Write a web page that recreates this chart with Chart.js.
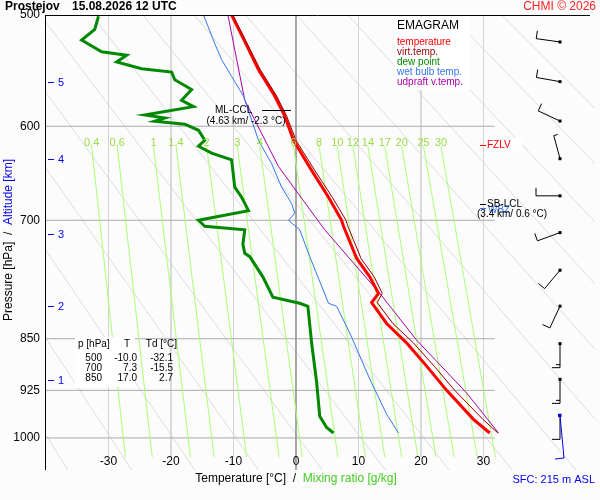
<!DOCTYPE html>
<html>
<head>
<meta charset="utf-8">
<script src="https://cdn.jsdelivr.net/npm/chart.js@4.4.1/dist/chart.umd.min.js"></script>
<style>
  body { margin: 0; background: #fcfcfc; }
  #wrap { width: 600px; height: 500px; }
</style>
</head>
<body>
<div id="wrap"><canvas id="emagram" width="600" height="500"></canvas></div>
<script>
// sounding profiles (pressure hPa / temperature degC)
const tempP = [500, 522, 547, 571, 590, 614, 645, 674, 700, 707, 745, 768, 789, 801, 829, 856, 889, 925, 970, 992];
const tempT = [-10.3, -8.2, -6.0, -3.4, -1.8, -0.4, 2.5, 5.2, 7.3, 7.6, 9.7, 11.8, 13.2, 12.1, 14.5, 17.7, 20.9, 24.1, 28.4, 31.0];
const virtT = [-10.1, -8.0, -5.7, -3.1, -1.5, 0.0, 3.0, 5.8, 8.0, 8.3, 10.4, 12.5, 13.8, 13.0, 15.5, 18.8, 22.1, 25.4, 29.9, 32.3];
const dewP = [501, 512, 521, 531, 534, 540, 546, 549, 556, 565, 575, 581, 589, 592, 595, 598, 604, 614, 620, 627, 634, 663, 674, 689, 700, 707, 711, 728, 739, 743, 768, 794, 802, 806, 856, 913, 965, 983, 992];
const dewT = [-31.6, -32.2, -34.3, -31.1, -27.1, -28.7, -24.7, -19.9, -19.4, -16.7, -18.3, -16.4, -24.2, -21.0, -22.6, -17.8, -15.6, -14.6, -15.6, -13.5, -10.3, -9.8, -8.7, -7.6, -15.6, -14.6, -8.2, -8.5, -8.2, -7.4, -5.3, -3.7, 0.6, 1.9, 2.5, 3.3, 3.8, 4.9, 6.0];
const wetP = [500, 524, 538, 553, 571, 594, 614, 638, 663, 681, 692, 700, 711, 743, 802, 806, 842, 908, 962, 992];
const wetT = [-14.8, -13.0, -11.9, -10.3, -8.4, -7.1, -6.0, -3.9, -2.3, -0.7, -0.2, -1.2, 0.6, 2.2, 5.2, 6.5, 8.6, 11.8, 14.5, 16.4];
const updP = [500, 575, 641, 677, 711, 789, 852, 929, 992];
const updT = [-10.9, -8.2, -2.8, 1.1, 4.6, 13.4, 19.3, 27.3, 32.4];

// background lines
const mixLabels = ['0.4', '0.6', '1', '1.4', '2', '3', '4', '6', '8', '10', '12', '14', '17', '20', '25', '30'];
const mixTop = [-32.7, -28.6, -22.8, -19.2, -14.3, -9.4, -5.8, -0.4, 3.7, 6.6, 9.1, 11.5, 14.2, 16.9, 20.4, 23.2];
const mixBottom = [-27.3, -23.0, -16.9, -13.1, -7.9, -2.7, 1.0, 6.7, 11.1, 14.2, 16.9, 19.5, 22.4, 25.3, 29.0, 31.9];
const dryBottom = [-36.5, -26.3, -16.2, -6.0, 4.2, 14.3, 24.5, 34.6, 44.8, 54.9, 65.1, 75.2, 85.4, 95.5, 105.7];
const dryTop = [-81.9, -73.7, -65.5, -57.3, -49.1, -40.9, -32.7, -24.5, -16.3, -8.1, 0.1, 8.3, 16.5, 24.7, 32.9];
const isobars = [600, 700, 850, 925, 1000];
const isotherms = [-30, -20, -10, 10, 20, 30];
const tempTicks = [-30, -20, -10, 0, 10, 20, 30];
const presTicks = [500, 600, 700, 850, 925, 1000];
const altKm = [1, 2, 3, 4, 5];
const altP = [909, 806, 716, 633, 558];

// winds: pressure, direction (deg), speed (kt)
const windP = [522.6, 557.7, 594.9, 632.8, 672.5, 714.3, 759.7, 805.8, 856.9, 908.5, 963.7];
const windDir = [278, 280, 295, 345, 270, 250, 220, 205, 180, 180, 180];
const windSpd = [10, 10, 10, 5, 10, 10, 10, 10, 15, 15, 10];

const P_MIN = 500, P_MAX = 1054, T_MIN = -40.16, T_MAX = 47.84;

const pts = (ps, ts) => ps.map((p, i) => ({ x: ts[i], y: p }));
const seg = (x1, y1, x2, y2, color, order) => ({
  data: [{ x: x1, y: y1 }, { x: x2, y: y2 }], borderColor: color, borderWidth: 1,
  pointRadius: 0, tension: 0, order: order
});

const datasets = [];
dryBottom.forEach((t, i) => datasets.push(seg(t, P_MAX, dryTop[i], P_MIN, '#dcdcdc', 20)));
isotherms.forEach(t => datasets.push(seg(t, P_MIN, t, 1032, '#d4d4d4', 19)));
datasets.push(seg(0, P_MIN, 0, P_MAX, '#999999', 18));
isobars.forEach(p => datasets.push(seg(T_MIN, p, 31.8, p, '#aaaaaa', 18)));
mixTop.forEach((t, i) => datasets.push(seg(t, 620, mixBottom[i], 1032, '#aaff77', 17)));
datasets.push({ data: pts(updP, updT), borderColor: '#aa00aa', borderWidth: 1, pointRadius: 0, order: 5 });
datasets.push({ data: pts(wetP, wetT), borderColor: '#3377ee', borderWidth: 1, pointRadius: 0, order: 4 });
datasets.push({ data: pts(dewP, dewT), borderColor: '#008800', borderWidth: 3, pointRadius: 0, order: 3 });
datasets.push({ data: pts(tempP, virtT), borderColor: '#990000', borderWidth: 1, pointRadius: 0, order: 1 });
datasets.push({ data: pts(tempP, tempT), borderColor: '#ff0000', borderWidth: 3, pointRadius: 0, order: 2 });

const annotate = {
  id: 'annotate',
  beforeDraw(chart) {
    const c = chart.ctx;
    c.save(); c.fillStyle = '#fcfcfc'; c.fillRect(0, 0, chart.width, chart.height); c.restore();
  },
  afterDatasetsDraw(chart) {
    const c = chart.ctx, xs = chart.scales.x, ys = chart.scales.y, a = chart.chartArea;
    const X = v => xs.getPixelForValue(v), Y = v => ys.getPixelForValue(v);
    c.save();
    // frame
    c.strokeStyle = '#000'; c.lineWidth = 1;
    c.beginPath(); c.moveTo(a.left + 0.5, a.top); c.lineTo(a.left + 0.5, a.bottom);
    c.moveTo(a.left, a.top + 0.5); c.lineTo(590, a.top + 0.5); c.stroke();

    c.font = '12px "Liberation Sans", Arial, sans-serif';
    c.textBaseline = 'middle';
    // pressure ticks
    c.fillStyle = '#000'; c.textAlign = 'right';
    presTicks.forEach(p => c.fillText(String(p), 40, Y(p)));
    // temperature ticks
    c.textAlign = 'center';
    tempTicks.forEach(t => c.fillText(String(t), X(t), 462));
    // altitude ticks
    c.fillStyle = '#0000ee'; c.strokeStyle = '#0000ee'; c.textAlign = 'left'; c.font = '11px "Liberation Sans", Arial, sans-serif';
    altKm.forEach((k, i) => {
      const y = Math.round(Y(altP[i])) + 0.5;
      c.beginPath(); c.moveTo(48, y); c.lineTo(54, y); c.stroke();
      c.fillText(String(k), 58, y);
    });
    // mixing ratio labels
    c.fillStyle = '#99dd44'; c.textAlign = 'center';
    mixLabels.forEach((l, i) => c.fillText(l, X(mixTop[i]), 143));

    // axis titles
    c.font = '12px "Liberation Sans", Arial, sans-serif';
    c.save(); c.translate(9, 240); c.rotate(-Math.PI / 2); c.textAlign = 'left';
    let s1 = 'Pressure [hPa]  /  ', s2 = 'Altitude [km]';
    let w = c.measureText(s1).width + c.measureText(s2).width, x0 = -w / 2;
    c.fillStyle = '#000'; c.fillText(s1, x0, 0);
    c.fillStyle = '#0000ee'; c.fillText(s2, x0 + c.measureText(s1).width, 0);
    c.restore();
    s1 = 'Temperature [°C]  /  '; s2 = 'Mixing ratio [g/kg]';
    w = c.measureText(s1).width + c.measureText(s2).width; x0 = 296 - w / 2;
    c.textAlign = 'left';
    c.fillStyle = '#000'; c.fillText(s1, x0, 479);
    c.fillStyle = '#44cc22'; c.fillText(s2, x0 + c.measureText(s1).width, 479);
    c.fillStyle = '#0000ee'; c.textAlign = 'right'; c.font = '11px "Liberation Sans", Arial, sans-serif';
    c.fillText('SFC: 215 m ASL', 595, 480);

    // title
    c.font = 'bold 12px "Liberation Sans", Arial, sans-serif'; c.textAlign = 'left'; c.fillStyle = '#000';
    c.fillText('Prostejov', 5, 7);
    c.fillText('15.08.2026 12 UTC', 72, 7);
    c.font = '12px "Liberation Sans", Arial, sans-serif'; c.fillStyle = '#ff2222'; c.textAlign = 'right';
    c.fillText('CHMI © 2026', 596, 7);

    // legend
    c.fillStyle = '#ffffff'; c.fillRect(395, 17, 75, 73);
    c.textAlign = 'left'; c.fillStyle = '#000'; c.font = '12px "Liberation Sans", Arial, sans-serif';
    c.fillText('EMAGRAM', 397, 26);
    c.font = '10px "Liberation Sans", Arial, sans-serif';
    [['temperature', '#ff0000'], ['virt.temp.', '#990000'], ['dew point', '#008800'],
     ['wet bulb temp.', '#3377ee'], ['udpraft v.temp.', '#aa00aa']].forEach((it, i) => {
      c.fillStyle = it[1]; c.fillText(it[0], 397, 42 + i * 10);
    });

    // table
    c.fillStyle = '#ffffff'; c.fillRect(75, 337, 60, 50);
    c.fillStyle = '#000'; c.font = '10px "Liberation Sans", Arial, sans-serif';
    c.textAlign = 'left'; c.fillText('p [hPa]', 78, 344);
    c.textAlign = 'right'; c.fillText('T', 130, 344); c.fillText('Td [°C]', 177, 344);
    [['500', '-10.0', '-32.1'], ['700', '7.3', '-15.5'], ['850', '17.0', '2.7']].forEach((r, i) => {
      const y = 358 + i * 10;
      c.fillText(r[0], 102, y); c.fillText(r[1], 137, y); c.fillText(r[2], 173, y);
    });

    // level labels
    c.strokeStyle = '#000'; c.beginPath(); c.moveTo(262, 110.5); c.lineTo(291, 110.5); c.stroke();
    c.fillStyle = '#000'; c.textAlign = 'left'; c.fillText('ML-CCL', 215, 110);
    c.textAlign = 'center'; c.fillText('(4.63 km/ -2.3 °C)', 246, 121);
    c.fillStyle = '#ffffff'; c.fillRect(486, 138, 36, 13);
    c.strokeStyle = '#ff0000'; c.beginPath(); c.moveTo(480, 145.5); c.lineTo(486, 145.5); c.stroke();
    c.fillStyle = '#ff0000'; c.textAlign = 'left'; c.fillText('FZLV', 487, 145);
    c.strokeStyle = '#000'; c.beginPath(); c.moveTo(480, 204.5); c.lineTo(486, 204.5); c.stroke();
    c.strokeStyle = '#3377ee'; c.beginPath(); c.moveTo(480, 208.5); c.lineTo(486, 208.5); c.stroke();
    c.fillStyle = '#3377ee'; c.fillText('WBZ', 488, 210);
    c.fillStyle = '#000'; c.fillText('SB-LCL', 487, 204);
    c.fillText('(3.4 km/ 0.6 °C)', 477, 214);

    // wind barbs (shaft points to where the wind comes from)
    c.lineWidth = 1;
    windP.forEach((p, i) => {
      const x = 560, y = Y(p), r = windDir[i] * Math.PI / 180;
      const dx = Math.sin(r), dy = -Math.cos(r);
      const ex = x + dx * 24, ey = y + dy * 24;
      c.strokeStyle = '#000'; c.fillStyle = '#000';
      c.beginPath(); c.moveTo(x, y); c.lineTo(ex, ey);
      let spd = windSpd[i], k = 0;
      while (spd >= 5) {
        const len = spd >= 10 ? 8 : 4;
        const bx = ex - dx * k * 3, by = ey - dy * k * 3;
        c.moveTo(bx, by); c.lineTo(bx - dy * len, by + dx * len);
        spd -= spd >= 10 ? 10 : 5; k++;
      }
      c.stroke();
      c.fillRect(x - 1.5, y - 1.5, 3, 3);
    });
    c.strokeStyle = '#0000ee';
    c.beginPath(); c.moveTo(560, Y(963.7)); c.lineTo(564, 458); c.lineTo(555, 459); c.stroke();
    c.fillStyle = '#0000ee'; c.fillRect(558, Y(963.7) - 1.5, 3, 3);
    c.restore();
  }
};

new Chart(document.getElementById('emagram'), {
  type: 'line',
  data: { datasets },
  options: {
    responsive: false, animation: false, devicePixelRatio: 1, parsing: true,
    layout: { padding: { left: 45, top: 15, right: 5, bottom: 30 } },
    scales: {
      x: { type: 'linear', min: T_MIN, max: T_MAX, display: false },
      y: { type: 'logarithmic', min: P_MIN, max: P_MAX, reverse: true, display: false }
    },
    plugins: { legend: { display: false }, tooltip: { enabled: false } }
  },
  plugins: [annotate]
});
</script>
</body>
</html>
